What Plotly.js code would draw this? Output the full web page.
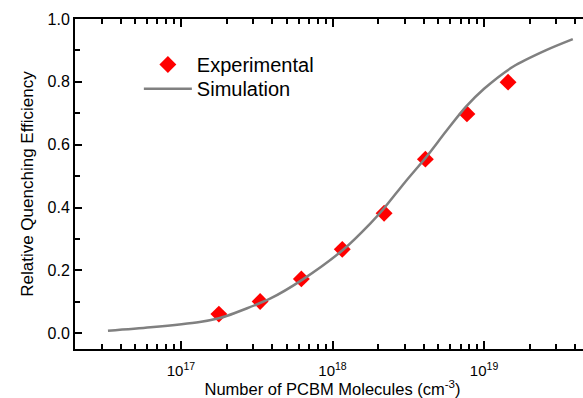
<!DOCTYPE html>
<html>
<head>
<meta charset="utf-8">
<script src="https://cdn.plot.ly/plotly-3.0.1.min.js"></script>
<style>
html,body{margin:0;padding:0;overflow:hidden;background:#fff;}
#chart{width:600px;height:398px;}
</style>
</head>
<body>
<div id="chart"></div>
<script>
// Experimental data (PCBM molecules per cm^3, relative quenching efficiency)
const expX = [1.78e17, 3.33e17, 6.23e17, 1.16e18, 2.19e18, 4.1e18, 7.71e18, 1.44e19];
const expY = [0.061, 0.101, 0.173, 0.267, 0.382, 0.554, 0.698, 0.799];

// Simulation curve
const simX = [3.3e16, 6.3e16, 1.33e17, 1.78e17, 2.0e17, 3.9e17, 6.3e17, 1.17e18, 1.78e18, 2.19e18, 3.0e18, 4.17e18, 5.6e18, 7.6e18, 1.0e19, 1.55e19, 2.57e19, 3.85e19];
const simY = [0.008, 0.019, 0.036, 0.048, 0.055, 0.111, 0.170, 0.265, 0.350, 0.398, 0.480, 0.562, 0.642, 0.721, 0.778, 0.848, 0.901, 0.936];

// Axis ticks
const xTickVals = [1e17, 1e18, 1e19];
const xTickText = ['10<sup>17</sup>', '10<sup>18</sup>', '10<sup>19</sup>'];
const xMinorMant = [2, 3, 4, 5, 6, 7, 8, 9];
const xMinorDecades = [1e16, 1e17, 1e18, 1e19];
const yTickVals = [0.0, 0.2, 0.4, 0.6, 0.8, 1.0];
const yMinorVals = [0.1, 0.3, 0.5, 0.7, 0.9];

const xMinorVals = [];
xMinorDecades.forEach(d => xMinorMant.forEach(m => {
  const v = m * d;
  if (v > 2e16 && v < 5e19) xMinorVals.push(v);
}));

const xRange = [Math.log10(2e16), Math.log10(5e19)];
const yRange = [-0.05, 1.0];

const font = {family: 'Liberation Sans, Arial, sans-serif', color: '#000'};

const traces = [
  {x: expX, y: expY, mode: 'markers', type: 'scatter', name: 'Experimental', legend: 'legend',
   marker: {symbol: 'diamond', color: '#ff0000', size: 13}},
  {x: simX, y: simY, mode: 'lines', type: 'scatter', name: 'Simulation', legend: 'legend2',
   line: {color: '#808080', width: 2.5, shape: 'spline', smoothing: 0.8}},
  // carrier for the minor-tick overlay axes (no data drawn)
  {x: [], y: [], type: 'scatter', mode: 'markers', xaxis: 'x2', yaxis: 'y2', showlegend: false, hoverinfo: 'skip'}
];

const legendBase = {xanchor: 'left', yanchor: 'top', font: Object.assign({size: 20}, font),
                    bgcolor: 'rgba(0,0,0,0)', itemwidth: 48};

const layout = {
  width: 600, height: 398,
  margin: {l: 75, r: 10, t: 19, b: 49},
  paper_bgcolor: '#fff', plot_bgcolor: '#fff',
  font: Object.assign({size: 16}, font),
  showlegend: true,
  legend: Object.assign({x: 0.124, y: 0.921}, legendBase),
  legend2: Object.assign({x: 0.124, y: 0.848}, legendBase),
  xaxis: {
    type: 'log', range: xRange,
    tickmode: 'array', tickvals: xTickVals, ticktext: xTickText,
    ticks: 'inside', ticklen: 8, tickwidth: 2, tickcolor: '#000',
    showline: true, linecolor: '#000', linewidth: 2, mirror: 'ticks',
    showgrid: false, zeroline: false,
    ticklabelstandoff: 7,
    tickfont: Object.assign({size: 15}, font),
    title: {text: 'Number of PCBM Molecules (cm<sup>-3</sup>)', font: Object.assign({size: 16.5}, font), standoff: 2}
  },
  yaxis: {
    range: yRange,
    tickmode: 'array', tickvals: yTickVals, tickformat: '.1f',
    ticks: 'inside', ticklen: 7, tickwidth: 2, tickcolor: '#000',
    showline: true, linecolor: '#000', linewidth: 2, mirror: 'ticks',
    showgrid: false, zeroline: false,
    tickfont: Object.assign({size: 16}, font),
    title: {text: 'Relative Quenching Efficiency', font: Object.assign({size: 17}, font), standoff: 10}
  },
  xaxis2: {
    type: 'log', range: xRange, overlaying: 'x', anchor: 'y2', side: 'bottom',
    tickmode: 'array', tickvals: xMinorVals, showticklabels: false,
    ticks: 'inside', ticklen: 5, tickwidth: 2, tickcolor: '#000',
    showline: false, mirror: 'ticks', showgrid: false, zeroline: false
  },
  yaxis2: {
    range: yRange, overlaying: 'y', anchor: 'x2', side: 'left',
    tickmode: 'array', tickvals: yMinorVals, showticklabels: false,
    ticks: 'inside', ticklen: 5, tickwidth: 2, tickcolor: '#000',
    showline: false, mirror: 'ticks', showgrid: false, zeroline: false
  }
};

Plotly.newPlot('chart', traces, layout, {displayModeBar: false, staticPlot: true});
</script>
</body>
</html>
